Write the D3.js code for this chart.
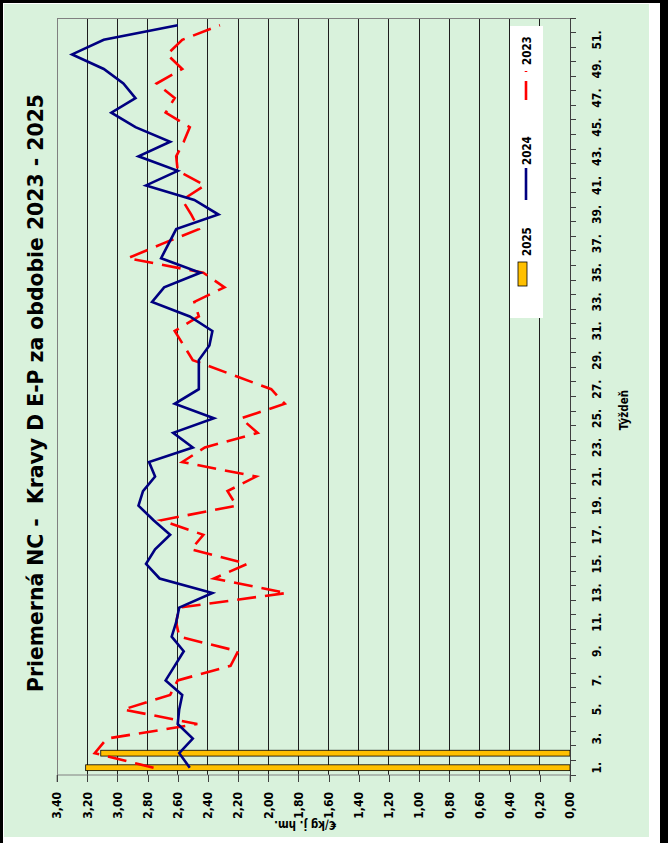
<!DOCTYPE html>
<html><head><meta charset="utf-8">
<script src="https://cdn.jsdelivr.net/npm/d3@7"></script>
<style>body{margin:0;background:#fff}svg{display:block}</style>
</head><body><svg id="c" width="668" height="843"></svg>
<script>
const weeks = [1,2,3,4,5,6,7,8,9,10,11,12,13,14,15,16,17,18,19,20,21,22,23,24,25,26,
  27,28,29,30,31,32,33,34,35,36,37,38,39,40,41,42,43,44,45,46,47,48,49,50,51,52];
const labeledWeeks = [1,3,5,7,9,11,13,15,17,19,21,23,25,27,29,31,33,35,37,39,41,43,45,47,49,51];
const series2025 = [3.21, 3.11];
const series2024 = [2.52,2.59,2.50,2.60,2.59,2.57,2.68,2.62,2.56,2.64,2.61,2.59,2.37,2.72,2.81,2.75,
  2.65,2.76,2.86,2.83,2.75,2.79,2.50,2.63,2.36,2.62,2.46,2.46,2.46,2.39,2.37,2.52,2.77,2.69,2.45,2.71,
  2.66,2.61,2.33,2.49,2.81,2.60,2.86,2.65,2.88,3.04,2.88,2.96,3.09,3.30,3.09,2.60];
const series2023 = [2.76,3.15,3.07,2.47,2.96,2.65,2.60,2.25,2.20,2.59,2.61,2.59,1.88,2.36,2.14,2.51,
  2.43,2.71,2.21,2.27,2.08,2.57,2.42,2.07,2.18,1.89,1.98,2.24,2.50,2.56,2.62,2.46,2.49,2.29,2.43,2.93,
  2.70,2.46,2.51,2.57,2.42,2.60,2.61,2.56,2.52,2.68,2.62,2.74,2.57,2.67,2.57,2.32];
const valueTicks = [0,0.2,0.4,0.6,0.8,1.0,1.2,1.4,1.6,1.8,2.0,2.2,2.4,2.6,2.8,3.0,3.2,3.4];
const legendNames = ["2025","2024","2023"];
const titleText = "Priemerná NC -  Kravy D E-P za obdobie 2023 - 2025";
const xTitle = "Týždeň";
const yTitle = "€/kg j. hm.";

const W = 668, H = 843;
const FONT = "'DejaVu Sans Condensed','DejaVu Sans',sans-serif";
const svg = d3.select("#c");

// frame
svg.append("rect").attr("width", W).attr("height", H).attr("fill", "#fff");
svg.append("rect").attr("x", 4).attr("y", 4).attr("width", 645).attr("height", 833).attr("fill", "#d9f2dc");
svg.append("rect").attr("x", 0).attr("y", 0).attr("width", W).attr("height", 3).attr("fill", "#000");
svg.append("rect").attr("x", 0).attr("y", 0).attr("width", 3).attr("height", H).attr("fill", "#000");
svg.append("rect").attr("x", 660).attr("y", 0).attr("width", 8).attr("height", H).attr("fill", "#000");

// chart drawn unrotated, then rotated -90deg
const g = svg.append("g").attr("transform", `translate(0,${H}) rotate(-90)`);
const L = 68, R = 825, T = 57, B = 570;
const x = d3.scaleBand().domain(weeks).range([L, R]);
const bw = x.bandwidth();
const y = d3.scaleLinear().domain([0, 3.4]).range([B, T]);

// gridlines
g.append("g").selectAll("line").data(valueTicks.filter(t => t > 0 && t < 3.4)).join("line")
  .attr("x1", L).attr("x2", R).attr("y1", d => y(d)).attr("y2", d => y(d))
  .attr("stroke", "#1e1e1e").attr("stroke-width", 1).attr("shape-rendering", "crispEdges");
// plot border (gray)
g.append("line").attr("x1", L).attr("x2", R).attr("y1", T).attr("y2", T)
  .attr("stroke", "#808080").attr("shape-rendering", "crispEdges");
g.append("line").attr("x1", R).attr("x2", R).attr("y1", T).attr("y2", B)
  .attr("stroke", "#808080").attr("shape-rendering", "crispEdges");

// bars 2025
g.append("g").selectAll("rect").data(series2025).join("rect")
  .attr("x", (d, i) => x(weeks[i]) + bw * 0.3)
  .attr("width", bw * 0.4)
  .attr("y", d => y(d)).attr("height", d => B - y(d))
  .attr("fill", "#ffc000").attr("stroke", "#000").attr("stroke-width", 0.8);

// lines
const line = d3.line().defined(d => d != null)
  .x((d, i) => x(weeks[i]) + bw / 2).y(d => y(d));
g.append("path").datum(series2023).attr("d", line)
  .attr("fill", "none").attr("stroke", "#ff0000").attr("stroke-width", 2.6)
  .attr("stroke-dasharray", "19,9");
g.append("path").datum(series2024).attr("d", line)
  .attr("fill", "none").attr("stroke", "#000080").attr("stroke-width", 2.6);

// value axis (left in unrotated)
const yAxis = d3.axisLeft(y).tickValues(valueTicks).tickSize(7).tickPadding(10)
  .tickFormat(d => d3.format(".2f")(d).replace(".", ","));
const ya = g.append("g").attr("transform", `translate(${L},0)`).call(yAxis);
ya.select(".domain").attr("stroke", "#808080").attr("d", `M-7,${T}H0V${B}H-7`);
ya.selectAll(".tick line").attr("stroke", "#404040").attr("shape-rendering", "crispEdges");
ya.selectAll("text").attr("font-family", FONT).attr("font-weight", "bold")
  .attr("font-size", "12px").attr("fill", "#000");

// week axis (bottom in unrotated)
const xa = g.append("g").attr("transform", `translate(0,${B})`);
xa.append("line").attr("x1", L).attr("x2", R).attr("y1", 0).attr("y2", 0)
  .attr("stroke", "#404040").attr("shape-rendering", "crispEdges");
xa.selectAll("line.tk").data(weeks.concat(["end"])).join("line").attr("class", "tk")
  .attr("x1", d => d === "end" ? R : x(d)).attr("x2", d => d === "end" ? R : x(d))
  .attr("y1", 0).attr("y2", 6).attr("stroke", "#404040").attr("shape-rendering", "crispEdges");
xa.selectAll("text").data(labeledWeeks).join("text")
  .attr("x", d => x(d) + bw / 2).attr("y", 31)
  .attr("text-anchor", "middle").attr("font-family", FONT).attr("font-weight", "bold")
  .attr("font-size", "12px").text(d => d + ".");

// axis titles
g.append("text").attr("x", 433).attr("y", 628).attr("text-anchor", "middle")
  .attr("font-family", FONT).attr("font-weight", "bold").attr("font-size", "11.5px").text(xTitle);
g.append("text").attr("transform", `translate(22,${305}) rotate(-90)`).attr("text-anchor", "middle")
  .attr("font-family", FONT).attr("font-weight", "bold").attr("font-size", "11.5px").text(yTitle);

// title
g.append("text").attr("x", 450).attr("y", 43).attr("text-anchor", "middle")
  .attr("font-family", FONT).attr("font-weight", "bold").attr("font-size", "22px")
  .style("white-space", "pre").attr("textLength", 598).attr("lengthAdjust", "spacingAndGlyphs")
  .text(titleText);

// legend
const lg = g.append("g");
lg.append("rect").attr("x", 525).attr("y", 510).attr("width", 292).attr("height", 33).attr("fill", "#fff");
const legX = [557, 643, 743];
lg.append("rect").attr("x", legX[0]).attr("y", 518).attr("width", 24).attr("height", 9)
  .attr("fill", "#ffc000").attr("stroke", "#000").attr("stroke-width", 0.8);
lg.append("line").attr("x1", legX[1]).attr("x2", legX[1] + 32).attr("y1", 526).attr("y2", 526)
  .attr("stroke", "#000080").attr("stroke-width", 2.6);
lg.append("line").attr("x1", legX[2]).attr("x2", legX[2] + 29).attr("y1", 526).attr("y2", 526)
  .attr("stroke", "#ff0000").attr("stroke-width", 2.6).attr("stroke-dasharray", "19,9");
const textX = [587, 678, 778];
lg.selectAll("text").data(legendNames).join("text")
  .attr("x", (d, i) => textX[i]).attr("y", 531)
  .attr("font-family", FONT).attr("font-weight", "bold").attr("font-size", "11.5px").text(d => d);
</script></body></html>
